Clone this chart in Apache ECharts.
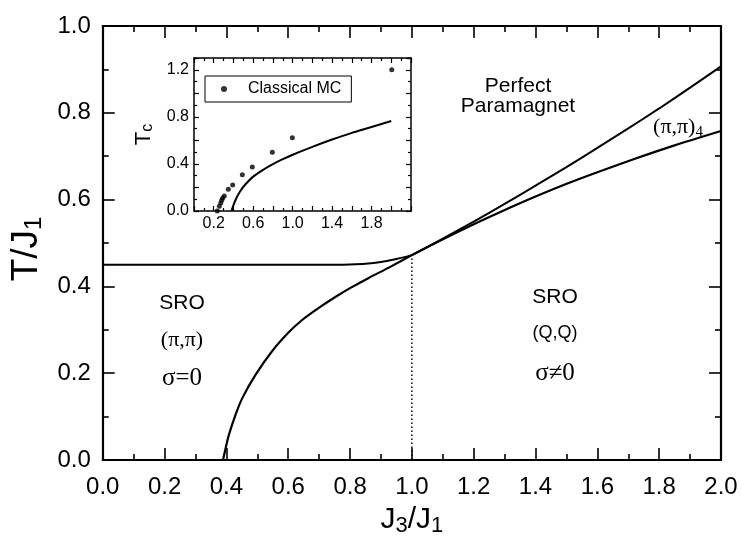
<!DOCTYPE html>
<html><head><meta charset="utf-8">
<script src="https://cdn.jsdelivr.net/npm/echarts@6/dist/echarts.min.js"></script>
<style>html,body{margin:0;padding:0;background:#fff}#c{width:742px;height:542px}</style>
</head><body><div id="c"></div>
<script>
// ---------- data ----------
const mainXTickLabels = [0.0,0.2,0.4,0.6,0.8,1.0,1.2,1.4,1.6,1.8,2.0];
const mainYTickLabels = [0.0,0.2,0.4,0.6,0.8,1.0];
const insetXTickLabels = [0.2,0.6,1.0,1.4,1.8];
const insetYTickLabels = [0.0,0.4,0.8,1.2];

// (pi,pi) SRO upper boundary (flat part, then joins at J3/J1 = 1)
const sroPiPiBoundary = [[0,0.45],[0.75,0.45],[0.8,0.4505],[0.85,0.452],[0.9,0.456],[0.95,0.463],[1.0,0.472]];
// lower boundary: rises from 0.39 and continues as the (pi,pi)4 lower line
const lowerBoundary = [[0.389,0],[0.40,0.035],[0.408,0.058],[0.43,0.105],[0.451,0.142],[0.494,0.196],
  [0.547,0.25],[0.60,0.293],[0.644,0.322],[0.70,0.351],[0.751,0.375],[0.80,0.396],[0.859,0.419],
  [0.93,0.445],[1.0,0.472],[1.073,0.499],[1.2,0.543],[1.288,0.572],[1.4,0.607],[1.503,0.637],
  [1.6,0.663],[1.717,0.693],[1.85,0.725],[2.0,0.758]];
// upper line bounding the perfect paramagnet
const upperBoundary = [[1.0,0.472],[1.1,0.51],[1.2,0.549],[1.3,0.59],[1.4,0.632],[1.5,0.675],
  [1.6,0.719],[1.7,0.764],[1.8,0.81],[1.9,0.858],[2.0,0.907]];
// dotted divider at J3/J1 = 1
const dividerLine = [[1.0,0],[1.0,0.472]];
// inset: classical Monte Carlo Tc
const classicalMC = [[0.236,0],[0.257,0.04],[0.271,0.068],[0.281,0.091],[0.291,0.11],[0.307,0.127],
  [0.348,0.184],[0.392,0.221],[0.49,0.309],[0.591,0.374],[0.794,0.50],[0.997,0.623],[2.005,1.20]];
const insetTcLine = [[0.38,0],[0.40,0.05],[0.43,0.11],[0.47,0.17],[0.52,0.225],[0.6,0.292],[0.7,0.35],
  [0.8,0.398],[0.9,0.44],[1.0,0.478],[1.2,0.545],[1.4,0.607],[1.6,0.664],[1.8,0.714],[2.0,0.765]];

// ---------- chart ----------
const SANS = 'Liberation Sans, Arial, sans-serif';
const SERIF = 'Liberation Serif, Times New Roman, serif';
const inList = (list, v) => list.some(t => Math.abs(t - v) < 1e-6);

function axis(base, opts) {
  return Object.assign({
    type: 'value',
    splitLine: {show: false},
    minorSplitLine: {show: false},
    axisLine: {show: true, onZero: false, lineStyle: {color: '#000', width: base.lw}},
    axisTick: {show: true, inside: true, length: base.tl, lineStyle: {color: '#000', width: base.tw}},
    minorTick: {show: true, splitNumber: 2, length: base.ml, lineStyle: {color: '#000', width: base.tw}},
  }, opts);
}
const M = {lw: 2.2, tl: 12, ml: 6, tw: 1.6};
const I = {lw: 1.5, tl: 5, ml: 3, tw: 1.2};
const curve = {type: 'line', showSymbol: false, smooth: 0.25};

const chart = echarts.init(document.getElementById('c'), null, {renderer: 'canvas'});
chart.setOption({
  animation: false,
  backgroundColor: '#fff',
  grid: [
    {left: 100, right: 21, top: 26, bottom: 80},
    {left: 194, right: 331, top: 58, bottom: 331}
  ],
  legend: {
    data: ['Classical MC'], left: 205, top: 76, orient: 'vertical',
    borderColor: '#000', borderWidth: 1, padding: [4, 10, 4, 16],
    itemWidth: 6, itemHeight: 6, icon: 'circle',
    textStyle: {fontFamily: SANS, fontSize: 16, color: '#000', lineHeight: 18, padding: [0, 0, 0, 16]}
  },
  xAxis: [
    axis(M, {gridIndex: 0, position: 'bottom', min: 0, max: 2, interval: 0.2,
      axisLabel: {margin: 15, fontFamily: SANS, fontSize: 24, color: '#000',
        formatter: v => inList(mainXTickLabels, v) ? v.toFixed(1) : ''},
      name: '{a|J}{s|3}{a|/J}{s|1}', nameLocation: 'middle', nameGap: 43,
      nameTextStyle: {rich: {
        a: {fontFamily: SANS, fontSize: 30, color: '#000', lineHeight: 34},
        s: {fontFamily: SANS, fontSize: 22, color: '#000', lineHeight: 14, verticalAlign: 'bottom'}}}
    }),
    axis(M, {gridIndex: 0, position: 'top', min: 0, max: 2, interval: 0.2, axisLabel: {show: false}}),
    axis(I, {gridIndex: 1, position: 'bottom', min: 0, max: 2.2, interval: 0.2,
      axisLabel: {margin: 5, fontFamily: SANS, fontSize: 16, color: '#000',
        formatter: v => inList(insetXTickLabels, v) ? v.toFixed(1) : ''}}),
    axis(I, {gridIndex: 1, position: 'top', min: 0, max: 2.2, interval: 0.2, axisLabel: {show: false}})
  ],
  yAxis: [
    axis(M, {gridIndex: 0, position: 'left', min: 0, max: 1, interval: 0.2,
      axisLabel: {margin: 12, fontFamily: SANS, fontSize: 24, color: '#000',
        formatter: v => inList(mainYTickLabels, v) ? v.toFixed(1) : ''},
      name: '{a|T/J}{s|1}', nameLocation: 'middle', nameRotate: 90, nameGap: 35,
      nameTextStyle: {padding: [0, 0, 0, -12], rich: {
        a: {fontFamily: SANS, fontSize: 37, color: '#000', lineHeight: 40},
        s: {fontFamily: SANS, fontSize: 24, color: '#000', lineHeight: 14, verticalAlign: 'bottom'}}}
    }),
    axis(M, {gridIndex: 0, position: 'right', min: 0, max: 1, interval: 0.2, axisLabel: {show: false}}),
    axis(I, {gridIndex: 1, position: 'left', min: 0, max: 1.3, interval: 0.2,
      axisLabel: {margin: 5, fontFamily: SANS, fontSize: 16, color: '#000',
        formatter: v => inList(insetYTickLabels, v) ? v.toFixed(1) : ''},
      name: '{a|T}{s|c}', nameLocation: 'middle', nameRotate: 90, nameGap: 38,
      nameTextStyle: {rich: {
        a: {fontFamily: SANS, fontSize: 22, color: '#000', lineHeight: 24},
        s: {fontFamily: SANS, fontSize: 16, color: '#000', lineHeight: 8, verticalAlign: 'bottom'}}}
    }),
    axis(I, {gridIndex: 1, position: 'right', min: 0, max: 1.3, interval: 0.2, axisLabel: {show: false}})
  ],
  series: [
    Object.assign({}, curve, {xAxisIndex: 0, yAxisIndex: 0, data: sroPiPiBoundary, lineStyle: {color: '#000', width: 2}}),
    Object.assign({}, curve, {xAxisIndex: 0, yAxisIndex: 0, data: lowerBoundary, lineStyle: {color: '#000', width: 2.2}}),
    Object.assign({}, curve, {xAxisIndex: 0, yAxisIndex: 0, data: upperBoundary, lineStyle: {color: '#000', width: 2}}),
    {type: 'line', xAxisIndex: 0, yAxisIndex: 0, data: dividerLine, showSymbol: false,
      lineStyle: {color: '#000', width: 1.5, type: [1.5, 2.5]}},
    Object.assign({}, curve, {xAxisIndex: 2, yAxisIndex: 2, data: insetTcLine, lineStyle: {color: '#000', width: 2}}),
    {type: 'scatter', name: 'Classical MC', xAxisIndex: 2, yAxisIndex: 2, data: classicalMC,
      symbol: 'circle', symbolSize: 5, itemStyle: {color: '#000'}}
  ],
  graphic: [
    {type: 'text', x: 518, y: 96, style: {text: 'Perfect\nParamagnet', fontFamily: SANS, fontSize: 21,
      lineHeight: 20, fill: '#000', align: 'center', verticalAlign: 'middle'}},
    {type: 'text', x: 678, y: 127, style: {text: '{a|(π,π)}{s|4}', align: 'center', verticalAlign: 'middle',
      rich: {a: {fontFamily: SERIF, fontSize: 22, lineHeight: 26, fill: '#000'},
             s: {fontFamily: SERIF, fontSize: 15, lineHeight: 12, verticalAlign: 'bottom', fill: '#000'}}}},
    {type: 'text', x: 182, y: 303, style: {text: 'SRO', fontFamily: SANS, fontSize: 21, fill: '#000', align: 'center', verticalAlign: 'middle'}},
    {type: 'text', x: 182, y: 340, style: {text: '(π,π)', fontFamily: SERIF, fontSize: 22, fill: '#000', align: 'center', verticalAlign: 'middle'}},
    {type: 'text', x: 182, y: 378, style: {text: 'σ=0', fontFamily: SERIF, fontSize: 25, fill: '#000', align: 'center', verticalAlign: 'middle'}},
    {type: 'text', x: 555, y: 297, style: {text: 'SRO', fontFamily: SANS, fontSize: 21, fill: '#000', align: 'center', verticalAlign: 'middle'}},
    {type: 'text', x: 555, y: 333, style: {text: '(Q,Q)', fontFamily: SANS, fontSize: 18, fill: '#000', align: 'center', verticalAlign: 'middle'}},
    {type: 'text', x: 555, y: 373, style: {text: 'σ≠0', fontFamily: SERIF, fontSize: 25, fill: '#000', align: 'center', verticalAlign: 'middle'}}
  ]
});
</script></body></html>
